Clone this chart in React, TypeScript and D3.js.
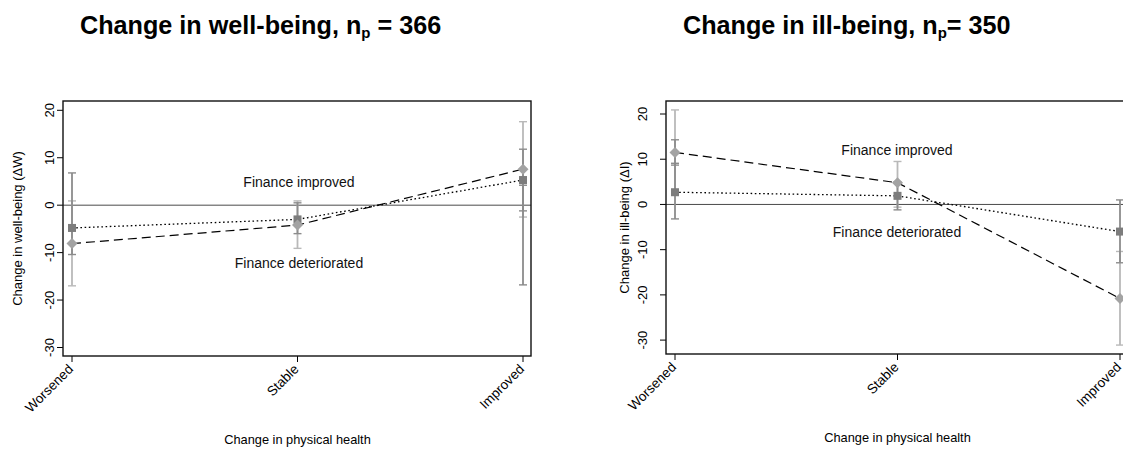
import React from "react";
import * as d3 from "d3";

const categories = ["Worsened", "Stable", "Improved"];
const yTicks = [-30, -20, -10, 0, 10, 20];

// Left panel: change in well-being
const wellImproved = [-8.1, -4.2, 7.6]; // diamonds, dashed
const wellDeteriorated = [-4.8, -3.0, 5.3]; // squares, dotted
const wellCILight = [
  { cat: "Worsened", lo: -17, hi: 0.9 },
  { cat: "Stable", lo: -9.1, hi: 0.9 },
  { cat: "Improved", lo: -2.5, hi: 17.6 },
];
const wellCIDark = [
  { cat: "Worsened", lo: -10.4, hi: 6.8 },
  { cat: "Stable", lo: -6.0, hi: 0.5 },
  { cat: "Improved", lo: -1.2, hi: 11.8 },
  { cat: "Improved", lo: -16.8, hi: 4.2 },
];

// Right panel: change in ill-being
const illImproved = [11.5, 4.8, -20.8];
const illDeteriorated = [2.7, 1.9, -6.0];
const illCILight = [
  { cat: "Worsened", lo: 2.1, hi: 20.9 },
  { cat: "Stable", lo: -0.6, hi: 9.5 },
  { cat: "Improved", lo: -31.1, hi: -10.4 },
];
const illCIDark = [
  { cat: "Worsened", lo: -3.2, hi: 9.1 },
  { cat: "Worsened", lo: 8.7, hi: 14.3 },
  { cat: "Stable", lo: -1.2, hi: 5.0 },
  { cat: "Improved", lo: -12.9, hi: 1.0 },
];

const FONT = "'Liberation Sans', Arial, sans-serif";
const LIGHT = "#b9b9b9";
const DARK = "#8c8c8c";
const SQUARE = "#7d7d7d";
const DIAMOND = "#a3a3a3";

type CI = { cat: string; lo: number; hi: number };

function Panel(props: {
  frame: { x0: number; x1: number; y0: number; y1: number };
  xRange: [number, number];
  yRange: [number, number];
  improved: number[];
  deteriorated: number[];
  ciLight: CI[];
  ciDark: CI[];
  yTitle: string;
  yTitleX: number;
  tickLabelX: number;
  annImproved: number;
  annDeteriorated: number;
  annX: number;
}) {
  const { frame } = props;
  const x = d3.scalePoint<string>().domain(categories).range(props.xRange);
  const y = d3.scaleLinear().domain([-30, 20]).range(props.yRange);
  const line = d3
    .line<number>()
    .x((_, i) => x(categories[i]) as number)
    .y((d) => y(d));
  const cap = 4;
  const bar = (c: CI, color: string, k: string) => {
    const cx = x(c.cat) as number;
    return (
      <g key={k} stroke={color} strokeWidth={1.8}>
        <line x1={cx} x2={cx} y1={y(c.lo)} y2={y(c.hi)} />
        <line x1={cx - cap} x2={cx + cap} y1={y(c.lo)} y2={y(c.lo)} strokeWidth={1.4} />
        <line x1={cx - cap} x2={cx + cap} y1={y(c.hi)} y2={y(c.hi)} strokeWidth={1.4} />
      </g>
    );
  };
  const midX = (props.xRange[0] + props.xRange[1]) / 2;
  const midY = (frame.y0 + frame.y1) / 2;
  return (
    <g>
      {yTicks.map((t) => (
        <g key={t}>
          <line x1={frame.x0 - 6} x2={frame.x0} y1={y(t)} y2={y(t)} stroke="#000" strokeWidth={1} />
          <text
            transform={`translate(${props.tickLabelX},${y(t)}) rotate(-90)`}
            textAnchor="middle"
            fontSize={13}
            fontFamily={FONT}
            fill="#000"
          >
            {t}
          </text>
        </g>
      ))}
      <text
        transform={`translate(${props.yTitleX},${midY}) rotate(-90)`}
        textAnchor="middle"
        fontSize={13}
        fontFamily={FONT}
        fill="#000"
      >
        {props.yTitle}
      </text>
      {categories.map((c) => (
        <g key={c}>
          <line
            x1={x(c) as number}
            x2={x(c) as number}
            y1={frame.y1}
            y2={frame.y1 + 6}
            stroke="#000"
            strokeWidth={1}
          />
          <text
            transform={`translate(${(x(c) as number) + 2},${frame.y1 + 14}) rotate(-45)`}
            textAnchor="end"
            fontSize={13.5}
            fontFamily={FONT}
            fill="#000"
          >
            {c}
          </text>
        </g>
      ))}
      <text x={midX} y={frame.y1 + 88} textAnchor="middle" fontSize={12.8} fontFamily={FONT} fill="#000">
        Change in physical health
      </text>
      <line x1={frame.x0} x2={frame.x1} y1={y(0)} y2={y(0)} stroke="#4a4a4a" strokeWidth={1} />
      <text x={props.annX} y={y(props.annImproved)} textAnchor="middle" fontSize={14} fontFamily={FONT} fill="#111">
        Finance improved
      </text>
      <text x={props.annX} y={y(props.annDeteriorated)} textAnchor="middle" fontSize={14} fontFamily={FONT} fill="#111">
        Finance deteriorated
      </text>
      {props.ciLight.map((c, i) => bar(c, LIGHT, "l" + i))}
      {props.ciDark.map((c, i) => bar(c, DARK, "d" + i))}
      <path d={line(props.deteriorated) as string} fill="none" stroke="#000" strokeWidth={1.3} strokeDasharray="1.6,2.6" />
      <path d={line(props.improved) as string} fill="none" stroke="#000" strokeWidth={1.2} strokeDasharray="9,5" />
      {props.deteriorated.map((v, i) => {
        const cx = x(categories[i]) as number;
        return <rect key={"s" + i} x={cx - 4} y={y(v) - 4} width={8} height={8} fill={SQUARE} />;
      })}
      {props.improved.map((v, i) => {
        const cx = x(categories[i]) as number;
        const cy = y(v);
        const r = 5.5;
        return (
          <path
            key={"dm" + i}
            d={`M${cx},${cy - r}L${cx + r},${cy}L${cx},${cy + r}L${cx - r},${cy}Z`}
            fill={DIAMOND}
          />
        );
      })}
      <rect
        x={frame.x0}
        y={frame.y0}
        width={frame.x1 - frame.x0}
        height={frame.y1 - frame.y0}
        fill="none"
        stroke="#111"
        strokeWidth={1.4}
      />
    </g>
  );
}

export default function App() {
  return (
    <svg
      width={1123}
      height={450}
      viewBox="0 0 1123 450"
      style={{ position: "absolute", left: 0, top: 0, background: "#fff" }}
    >
      <rect x={0} y={0} width={1123} height={450} fill="#fff" />
      <text x={80} y={34} fontSize={25.2} fontWeight="bold" fontFamily={FONT} fill="#000">
        Change in well-being, n
        <tspan fontSize={15} dy={4}>p</tspan>
        <tspan dy={-4}> = 366</tspan>
      </text>
      <text x={683} y={34} fontSize={25.2} fontWeight="bold" fontFamily={FONT} fill="#000">
        Change in ill-being, n
        <tspan fontSize={15} dy={4}>p</tspan>
        <tspan dy={-4}>= 350</tspan>
      </text>
      <Panel
        frame={{ x0: 63, x1: 531, y0: 101, y1: 356 }}
        xRange={[72, 523]}
        yRange={[347.5, 110.3]}
        improved={wellImproved}
        deteriorated={wellDeteriorated}
        ciLight={wellCILight}
        ciDark={wellCIDark}
        yTitle="Change in well-being (ΔW)"
        yTitleX={22}
        tickLabelX={54}
        annImproved={3.9}
        annDeteriorated={-13.2}
        annX={299}
      />
      <Panel
        frame={{ x0: 666, x1: 1129, y0: 101, y1: 354 }}
        xRange={[675, 1120]}
        yRange={[340.1, 114]}
        improved={illImproved}
        deteriorated={illDeteriorated}
        ciLight={illCILight}
        ciDark={illCIDark}
        yTitle="Change in ill-being (ΔI)"
        yTitleX={629}
        tickLabelX={647}
        annImproved={10.9}
        annDeteriorated={-7.2}
        annX={897}
      />
    </svg>
  );
}
